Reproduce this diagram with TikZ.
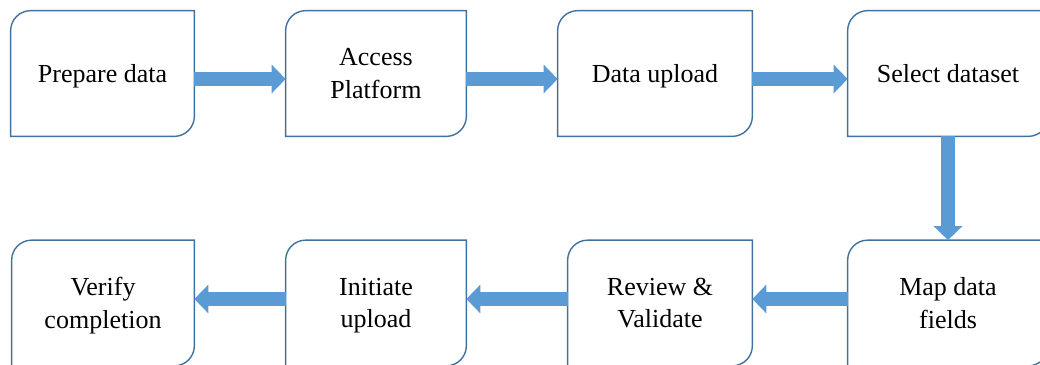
\documentclass[tikz,border=0pt]{standalone}
\usepackage{fontspec}
\setmainfont{Liberation Serif}
\usepackage{tikz}
\usetikzlibrary{arrows.meta}
\definecolor{boxblue}{HTML}{41719C}
\definecolor{arrowblue}{HTML}{5B9BD5}
\tikzset{
	stepbox/.style={minimum height=2.5cm, align=center, inner sep=0pt, text depth=0pt,
		font=\fontsize{14.8}{18.4}\selectfont},
	flow/.style={line width=0.28cm, draw=arrowblue, -{Triangle[length=0.28cm, width=0.56cm]}}
}
\def\roundbox#1{\draw[boxblue, line width=0.8pt] (#1.south west) -- ([yshift=-0.4cm]#1.north west) arc (180:90:0.4cm) -- (#1.north east) -- ([yshift=0.4cm]#1.south east) arc (0:-90:0.4cm) -- cycle;}

\begin{document}
\begin{tikzpicture}
			%%%%% START %%%%%
			\useasboundingbox (0, 0) rectangle (20.8, 7.3);
			
			\node[stepbox, minimum width=3.66cm] (prep) at (2.05, 5.83) {Prepare data};
			\node[stepbox, minimum width=3.6cm] (access) at (7.52, 5.83) {Access\\Platform};
			\node[stepbox, minimum width=3.88cm] (upload) at (13.1, 5.83) {Data upload};
			\node[stepbox, minimum width=4cm] (select) at (18.96, 5.83) {Select dataset};
			
			\node[stepbox, minimum width=3.64cm] (verify) at (2.06, 1.24) {Verify\\completion};
			\node[stepbox, minimum width=3.6cm] (initiate) at (7.52, 1.24) {Initiate\\upload};
			\node[stepbox, minimum width=3.68cm] (review) at (13.2, 1.24) {Review \&\\Validate};
			\node[stepbox, minimum width=4cm] (map) at (18.96, 1.24) {Map data\\fields};
			
			\roundbox{prep}
			\roundbox{access}
			\roundbox{upload}
			\roundbox{select}
			\roundbox{verify}
			\roundbox{initiate}
			\roundbox{review}
			\roundbox{map}
			
			\draw[flow] ([yshift=-0.11cm]prep.east) -- ([yshift=-0.11cm]access.west);
			\draw[flow] ([yshift=-0.11cm]access.east) -- ([yshift=-0.11cm]upload.west);
			\draw[flow] ([yshift=-0.11cm]upload.east) -- ([yshift=-0.11cm]select.west);
			\draw[flow] (select.south) -- (map.north);
			\draw[flow] ([yshift=0.08cm]map.west) -- ([yshift=0.08cm]review.east);
			\draw[flow] ([yshift=0.08cm]review.west) -- ([yshift=0.08cm]initiate.east);
			\draw[flow] ([yshift=0.08cm]initiate.west) -- ([yshift=0.08cm]verify.east);
			%%%%% END %%%%%
\end{tikzpicture}
\end{document}
